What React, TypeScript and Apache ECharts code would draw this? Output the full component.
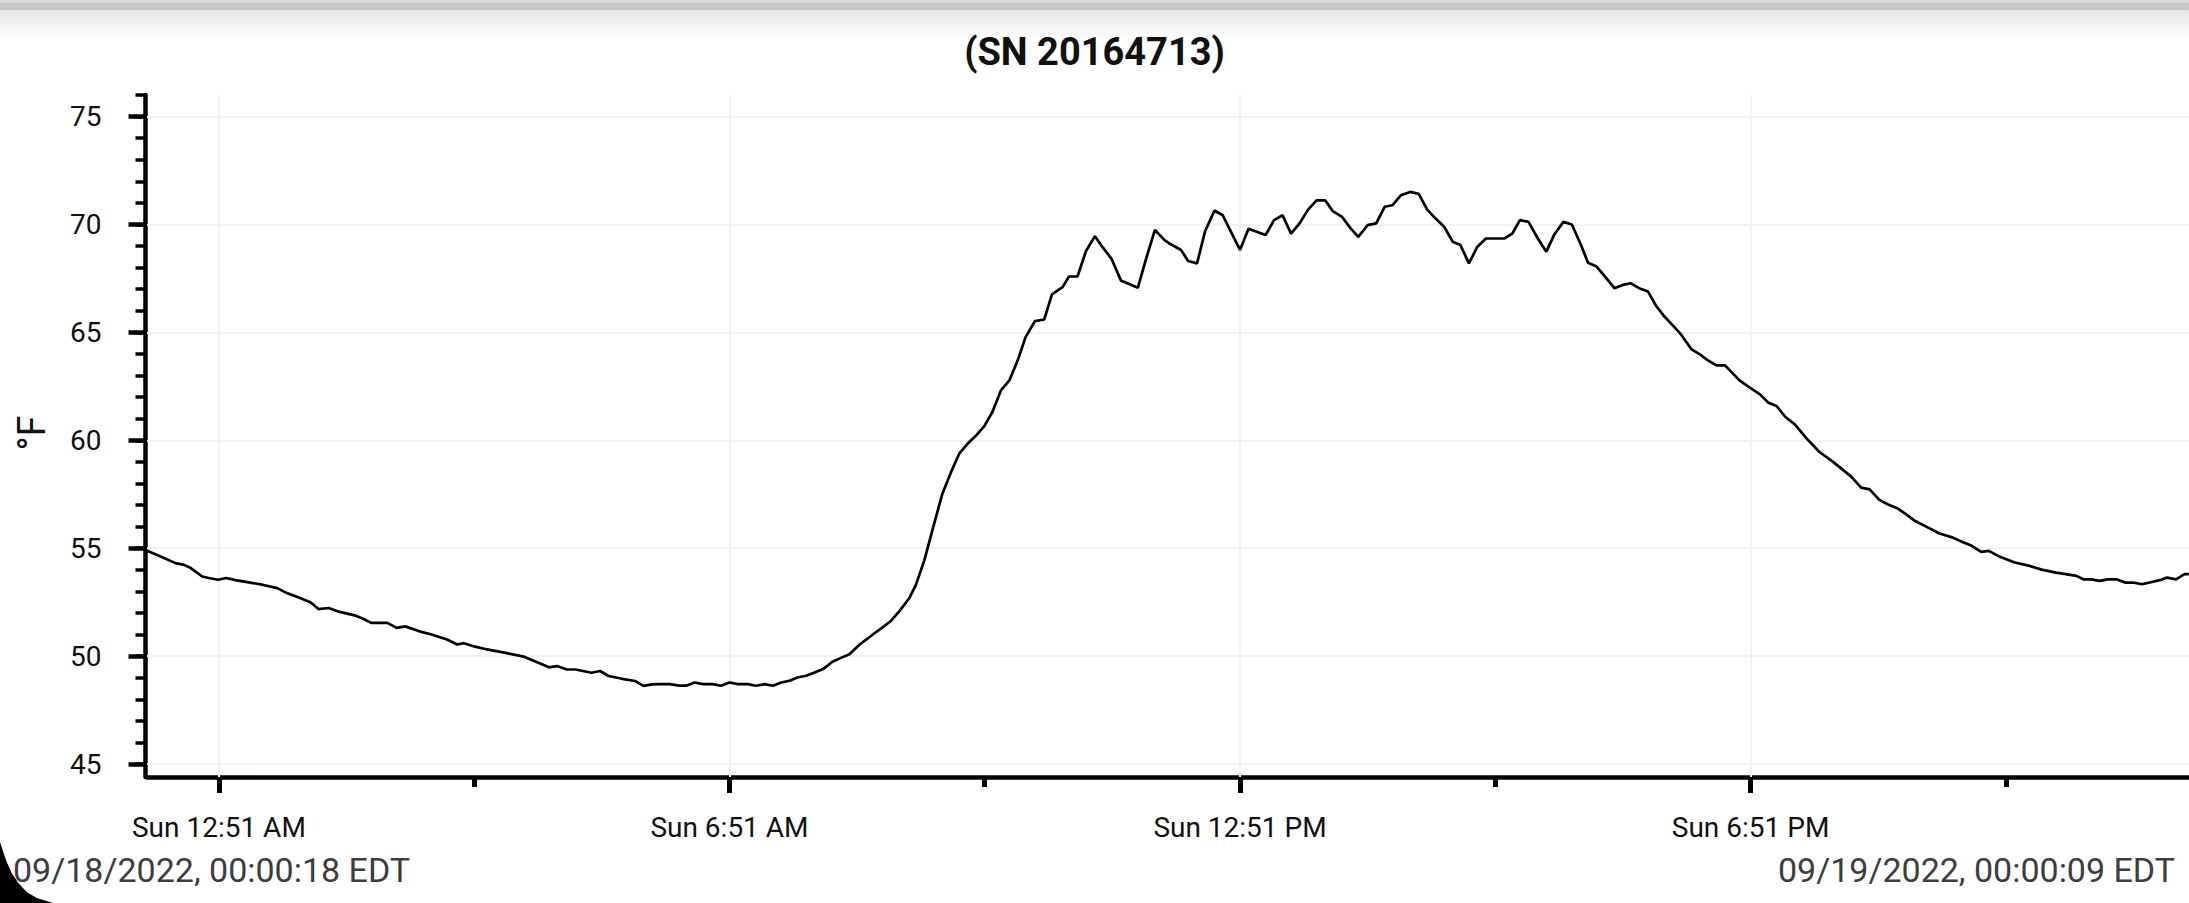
import React, { useEffect, useRef } from "react";
import * as echarts from "echarts";

// Temperature log, 09/18/2022 (hours since midnight EDT) and °F
const hours = [
  0.005, 0.145, 0.34, 0.44, 0.52, 0.654, 0.73, 0.84, 0.936, 1.046, 1.2, 1.36, 1.535, 1.65, 1.79, 1.93,
  2.02, 2.14, 2.26, 2.455, 2.55, 2.64, 2.83, 2.94, 3.04, 3.24, 3.35, 3.53, 3.65, 3.73, 3.85, 4.0,
  4.22, 4.43, 4.59, 4.73, 4.82, 4.94, 5.04, 5.23, 5.33, 5.43, 5.59, 5.74, 5.84, 5.94,
  6.03, 6.145, 6.26, 6.34, 6.44, 6.54, 6.65, 6.75, 6.85, 6.95, 7.065, 7.16, 7.26, 7.36, 7.46, 7.555,
  7.65, 7.75, 7.85, 7.95, 8.06, 8.16, 8.26, 8.38, 8.475, 8.55, 8.65, 8.75, 8.85, 8.96, 9.04, 9.14,
  9.24, 9.35, 9.45, 9.55, 9.65, 9.75, 9.845, 9.94, 10.04, 10.14, 10.24, 10.33, 10.44, 10.55, 10.64,
  10.765, 10.84, 10.94, 11.04, 11.145, 11.235, 11.34, 11.45, 11.65, 11.75, 11.85, 11.96,
  12.02, 12.157, 12.24, 12.345, 12.44, 12.55, 12.646, 12.85, 12.95, 13.15, 13.25, 13.35, 13.45, 13.55,
  13.65, 13.75, 13.85, 13.94, 14.05, 14.15, 14.24, 14.35, 14.45, 14.55, 14.64, 14.74, 14.85, 14.95,
  15.05, 15.14, 15.25, 15.35, 15.44, 15.54, 15.64, 15.74, 15.955, 16.05, 16.14, 16.24, 16.35, 16.45,
  16.54, 16.65, 16.75, 16.85, 16.94, 17.04, 17.14, 17.25, 17.35, 17.44, 17.54, 17.645, 17.74, 17.83, 17.93,
  18.02, 18.157, 18.255, 18.35, 18.45, 18.55, 18.72, 18.86, 18.96, 19.06, 19.155, 19.26, 19.37, 19.51,
  19.66, 19.82, 20.03, 20.15, 20.25, 20.36, 20.46, 20.58, 20.68, 20.78, 20.92, 21.07, 21.23, 21.34,
  21.45, 21.56, 21.65, 21.78, 21.955, 22.13, 22.27, 22.44, 22.68, 22.76, 22.855, 22.95, 23.05, 23.15,
  23.25, 23.345, 23.45, 23.54, 23.66, 23.745, 23.85, 23.95, 24.0,
];

const tempF = [
  54.88, 54.65, 54.31, 54.23, 54.08, 53.69, 53.62, 53.54, 53.62, 53.52, 53.42, 53.31, 53.15, 52.92, 52.72, 52.49,
  52.18, 52.23, 52.06, 51.88, 51.72, 51.54, 51.54, 51.31, 51.38, 51.11, 51.0, 50.77, 50.54, 50.6, 50.45, 50.31,
  50.15, 49.98, 49.72, 49.48, 49.54, 49.38, 49.38, 49.23, 49.31, 49.08, 48.95, 48.85, 48.62, 48.69,
  48.7, 48.7, 48.63, 48.63, 48.78, 48.7, 48.7, 48.63, 48.78, 48.7, 48.7, 48.63, 48.7, 48.63, 48.78, 48.86,
  49.01, 49.09, 49.24, 49.4, 49.74, 49.92, 50.09, 50.54, 50.82, 51.05, 51.33, 51.64, 52.1, 52.67, 53.29, 54.44,
  55.91, 57.5, 58.49, 59.38, 59.85, 60.23, 60.66, 61.31, 62.31, 62.78, 63.73, 64.78, 65.52, 65.6, 66.76,
  67.1, 67.59, 67.59, 68.77, 69.46, 68.95, 68.41, 67.41, 67.07, 68.46, 69.75, 69.29,
  69.12, 68.82, 68.31, 68.2, 69.69, 70.65, 70.43, 68.82, 69.8, 69.51, 70.2, 70.43, 69.58, 70.05,
  70.69, 71.12, 71.12, 70.62, 70.35, 69.82, 69.43, 69.97, 70.05, 70.82, 70.89, 71.35, 71.51, 71.42,
  70.69, 70.31, 69.89, 69.2, 69.05, 68.2, 68.97, 69.35, 69.35, 69.58, 70.2, 70.12, 69.35, 68.74,
  69.51, 70.12, 70.0, 69.12, 68.23, 68.05, 67.58, 67.05, 67.2, 67.28, 67.05, 66.89, 66.23, 65.77, 65.35,
  64.97, 64.21, 63.98, 63.7, 63.47, 63.47, 62.78, 62.39, 62.13, 61.74, 61.59, 61.08, 60.74, 60.08,
  59.46, 59.0, 58.33, 57.81, 57.73, 57.25, 57.04, 56.84, 56.57, 56.27, 55.99, 55.68, 55.49, 55.29,
  55.11, 54.83, 54.88, 54.6, 54.34, 54.18, 54.01, 53.87, 53.72, 53.56, 53.56, 53.49, 53.56, 53.56,
  53.41, 53.41, 53.33, 53.41, 53.52, 53.64, 53.56, 53.8, 53.8,
];

const majorXTicks = [0.85, 6.85, 12.85, 18.85];
const minorXTicks = [3.85, 9.85, 15.85, 21.85];
const xTickLabels = ["Sun 12:51 AM", "Sun 6:51 AM", "Sun 12:51 PM", "Sun 6:51 PM"];
const majorYTicks = [45, 50, 55, 60, 65, 70, 75];
const minorYTicks = [
  45, 46, 47, 48, 49, 50, 51, 52, 53, 54, 55, 56, 57, 58, 59, 60, 61, 62, 63, 64, 65, 66, 67, 68, 69,
  70, 71, 72, 73, 74, 75, 76,
];

const titleText = "(SN 20164713)";
const unitText = "°F";
const startText = "09/18/2022, 00:00:18 EDT";
const endText = "09/19/2022, 00:00:09 EDT";

const X_MIN = 0.005;
const X_MAX = 24.0025;
const Y_MIN = 44.4;
const Y_MAX = 76;

const FONT = "Roboto, 'Noto Sans', sans-serif";

const cornerPts = [
  [0, 842],
  [3.3, 852],
  [6.7, 862],
  [11.7, 873],
  [18.3, 883],
  [26.7, 892],
  [36.7, 898],
  [53, 903],
  [0, 903],
];

export default function App() {
  const ref = useRef<HTMLDivElement>(null);

  useEffect(() => {
    document.body.style.margin = "0";
    if (!ref.current) return;
    const chart = echarts.init(ref.current, undefined, { renderer: "svg" });

    const option: any = {
      animation: false,
      backgroundColor: "#ffffff",
      grid: { left: 147, right: 0, top: 95, bottom: 126, containLabel: false },
      xAxis: [
        {
          type: "value",
          min: X_MIN,
          max: X_MAX,
          position: "bottom",
          axisLine: { show: true, onZero: false, lineStyle: { color: "#000", width: 4.5 } },
          axisTick: {
            show: true,
            customValues: majorXTicks,
            length: 16,
            lineStyle: { color: "#000", width: 5 },
          },
          axisLabel: {
            show: true,
            customValues: majorXTicks,
            formatter: (v: number) => {
              const i = majorXTicks.findIndex((t) => Math.abs(t - v) < 1e-6);
              return i >= 0 ? xTickLabels[i] : "";
            },
            fontSize: 28,
            fontFamily: FONT,
            color: "#111",
            margin: 36,
          },
          splitLine: { show: false },
        },
        {
          type: "value",
          min: X_MIN,
          max: X_MAX,
          position: "bottom",
          offset: 0,
          axisLine: { show: false, onZero: false },
          axisTick: {
            show: true,
            customValues: minorXTicks,
            length: 10,
            lineStyle: { color: "#000", width: 5 },
          },
          axisLabel: { show: false },
          splitLine: { show: false },
        },
      ],
      yAxis: [
        {
          type: "value",
          min: Y_MIN,
          max: Y_MAX,
          position: "left",
          offset: 1.5,
          axisLine: { show: true, onZero: false, lineStyle: { color: "#000", width: 4.5 } },
          axisTick: {
            show: true,
            customValues: majorYTicks,
            length: 17,
            lineStyle: { color: "#000", width: 4.5 },
          },
          axisLabel: {
            show: true,
            customValues: majorYTicks,
            fontSize: 28,
            fontFamily: FONT,
            color: "#111",
            margin: 44,
          },
          splitLine: { show: false },
        },
        {
          type: "value",
          min: Y_MIN,
          max: Y_MAX,
          position: "left",
          offset: 1.5,
          axisLine: { show: false, onZero: false },
          axisTick: {
            show: true,
            customValues: minorYTicks,
            length: 10,
            lineStyle: { color: "#000", width: 3.5 },
          },
          axisLabel: { show: false },
          splitLine: { show: false },
        },
      ],
      series: [
        {
          type: "line",
          xAxisIndex: 0,
          yAxisIndex: 0,
          data: hours.map((h, i) => [h, tempF[i]]),
          showSymbol: false,
          symbol: "none",
          lineStyle: { color: "#000", width: 2.7 },
          z: 3,
          markLine: {
            silent: true,
            z: 1,
            symbol: ["none", "none"],
            label: { show: false },
            lineStyle: { color: "#f2f2f2", width: 2, type: "solid" },
            emphasis: { disabled: true },
            data: [
              ...majorXTicks.map((x) => ({ xAxis: x })),
              ...majorYTicks.map((y) => ({ yAxis: y })),
            ],
          },
        },
      ],
      graphic: [
        { type: "rect", shape: { x: 0, y: 0, width: 2189, height: 3 }, style: { fill: "#dadada" }, silent: true },
        { type: "rect", shape: { x: 0, y: 3, width: 2189, height: 7 }, style: { fill: "#c8c8c8" }, silent: true },
        {
          type: "rect",
          shape: { x: 0, y: 10, width: 2189, height: 32 },
          style: {
            fill: new echarts.graphic.LinearGradient(0, 0, 0, 1, [
              { offset: 0, color: "#e8e8e8" },
              { offset: 1, color: "#ffffff" },
            ]),
          },
          silent: true,
        },
        {
          type: "text",
          x: 1094.5,
          y: 52,
          style: {
            text: titleText,
            fontSize: 38,
            fontWeight: "bold",
            fontFamily: FONT,
            fill: "#111",
            align: "center",
            verticalAlign: "middle",
          },
          silent: true,
        },
        {
          type: "text",
          x: 31.5,
          y: 433,
          rotation: Math.PI / 2,
          style: {
            text: unitText,
            fontSize: 38,
            fontFamily: FONT,
            fill: "#111",
            align: "center",
            verticalAlign: "middle",
          },
          silent: true,
        },
        {
          type: "text",
          x: 13,
          y: 870,
          style: {
            text: startText,
            fontSize: 34,
            fontFamily: FONT,
            fill: "#3d3d3d",
            align: "left",
            verticalAlign: "middle",
          },
          silent: true,
        },
        {
          type: "text",
          x: 2175,
          y: 870,
          style: {
            text: endText,
            fontSize: 34,
            fontFamily: FONT,
            fill: "#3d3d3d",
            align: "right",
            verticalAlign: "middle",
          },
          silent: true,
        },
        {
          type: "polygon",
          shape: { points: cornerPts },
          style: { fill: "#000" },
          silent: true,
          z: 100,
        },
      ],
    };

    chart.setOption(option);
    return () => chart.dispose();
  }, []);

  return (
    <div
      ref={ref}
      style={{ position: "absolute", left: 0, top: 0, width: 2189, height: 903, overflow: "hidden" }}
    />
  );
}
